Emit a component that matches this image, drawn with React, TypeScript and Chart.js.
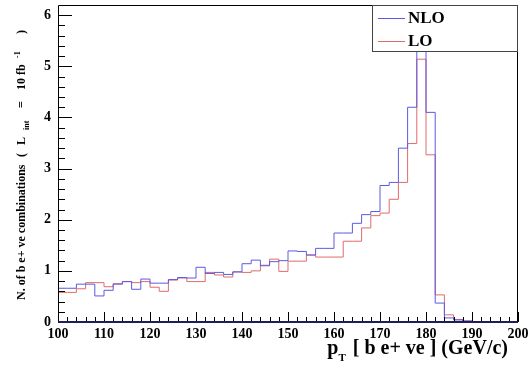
import React, { useEffect, useRef } from 'react';
import { Chart, registerables } from 'chart.js';

Chart.register(...registerables);

// Low edges of the 2 GeV/c bins
const binEdges = [
  100, 102, 104, 106, 108, 110, 112, 114, 116, 118,
  120, 122, 124, 126, 128, 130, 132, 134, 136, 138,
  140, 142, 144, 146, 148, 150, 152, 154, 156, 158,
  160, 162, 164, 166, 168, 170, 172, 174, 176, 178,
  180, 182, 184, 186, 188, 190, 192, 194, 196, 198,
];
const lastEdge = 200;

const nloValues = [
  0.66, 0.66, 0.74, 0.74, 0.51, 0.62, 0.74, 0.79, 0.64, 0.84,
  0.76, 0.76, 0.83, 0.87, 0.86, 1.07, 0.95, 0.97, 0.93, 0.98,
  1.14, 1.21, 1.10, 1.18, 1.20, 1.39, 1.38, 1.31, 1.44, 1.44,
  1.74, 1.74, 1.93, 2.10, 2.16, 2.67, 2.73, 3.40, 4.20, 5.75,
  4.10, 0.37, 0.08, 0.04, 0.02, 0.0, 0.0, 0.0, 0.0, 0.0,
];

const loValues = [
  0.58, 0.58, 0.65, 0.77, 0.77, 0.69, 0.75, 0.79, 0.77, 0.79,
  0.68, 0.60, 0.82, 0.86, 0.79, 0.79, 0.97, 0.92, 0.88, 0.98,
  0.97, 1.00, 1.11, 1.23, 0.99, 1.19, 1.19, 1.31, 1.27, 1.27,
  1.27, 1.58, 1.58, 1.84, 2.08, 2.13, 2.40, 2.73, 3.49, 5.14,
  3.27, 0.53, 0.14, 0.05, 0.02, 0.01, 0.0, 0.0, 0.0, 0.0,
];

const xTickStep = 10;
const xMinorStep = 2;
const yTickStep = 1;
const yMinorStep = 0.2;
const xMin = 100;
const xMax = 200;
const yMin = 0;
const yMax = 6.2;

const seriesNames = ['NLO', 'LO'];
const seriesColors = ['#5b5be0', '#e06a6a'];

const SERIF = '"Liberation Serif", "DejaVu Serif", serif';

function histPoints(values: number[]) {
  const pts = binEdges.map((x, i) => ({ x, y: values[i] }));
  pts.push({ x: lastEdge, y: values[values.length - 1] });
  return pts;
}

const decorPlugin = {
  id: 'rootDecor',
  afterDraw(chart: any) {
    const { ctx, chartArea: a } = chart;
    const xs = chart.scales.x;
    const ys = chart.scales.y;
    ctx.save();

    // frame
    ctx.strokeStyle = '#000';
    ctx.lineWidth = 1;
    ctx.beginPath();
    ctx.moveTo(a.left + 0.5, a.bottom);
    ctx.lineTo(a.left + 0.5, a.top + 0.5);
    ctx.lineTo(a.right - 0.5, a.top + 0.5);
    ctx.lineTo(a.right - 0.5, a.bottom);
    ctx.stroke();

    // x ticks (inside, upward)
    ctx.beginPath();
    for (let v = xMin; v <= xMax + 1e-6; v += xMinorStep) {
      const px = Math.round(xs.getPixelForValue(v)) + 0.5;
      const major = Math.abs(v / xTickStep - Math.round(v / xTickStep)) < 1e-6;
      const len = major ? 10 : 5;
      ctx.moveTo(px, a.bottom);
      ctx.lineTo(px, a.bottom - len);
    }
    // y ticks (inside, rightward)
    for (let v = yMin; v <= 6 + 1e-6; v += yMinorStep) {
      const py = Math.round(ys.getPixelForValue(v)) + 0.5;
      const major = Math.abs(v / yTickStep - Math.round(v / yTickStep)) < 1e-6;
      const len = major ? 14 : 7;
      ctx.moveTo(a.left, py);
      ctx.lineTo(a.left + len, py);
    }
    ctx.stroke();

    // bottom axis line
    ctx.strokeStyle = '#1e1e5a';
    ctx.lineWidth = 2;
    ctx.beginPath();
    ctx.moveTo(a.left, a.bottom);
    ctx.lineTo(a.right, a.bottom);
    ctx.stroke();

    // legend box
    const lx = 372, ly = a.top, lw = a.right - 372, lh = 46;
    ctx.fillStyle = '#fff';
    ctx.fillRect(lx, ly, lw, lh);
    ctx.strokeStyle = '#444';
    ctx.lineWidth = 1;
    ctx.strokeRect(lx + 0.5, ly + 0.5, lw - 1, lh);
    const rows = [ly + 13, ly + 36];
    seriesNames.forEach((name, i) => {
      ctx.strokeStyle = seriesColors[i];
      ctx.lineWidth = 1;
      ctx.beginPath();
      ctx.moveTo(378, rows[i] + 0.5);
      ctx.lineTo(405, rows[i] + 0.5);
      ctx.stroke();
      ctx.fillStyle = '#000';
      ctx.font = 'bold 17px ' + SERIF;
      ctx.textBaseline = 'middle';
      ctx.textAlign = 'left';
      ctx.fillText(name, 408, rows[i] + 1);
    });

    // x title
    ctx.fillStyle = '#000';
    ctx.textBaseline = 'alphabetic';
    ctx.textAlign = 'left';
    const bigX = 'bold 20px ' + SERIF;
    const smallX = 'bold 11px ' + SERIF;
    const rest = ' [ b e+ ve ] (GeV/c)';
    ctx.font = bigX;
    const wRest = ctx.measureText(rest).width;
    const wP = ctx.measureText('p').width;
    ctx.font = smallX;
    const wT = ctx.measureText('T').width;
    const xEnd = 508;
    const xStart = xEnd - wRest - wT - wP - 2;
    ctx.font = bigX;
    ctx.fillText('p', xStart, 354);
    ctx.font = smallX;
    ctx.fillText('T', xStart + wP, 361);
    ctx.font = bigX;
    ctx.fillText(rest, xStart + wP + wT + 2, 354);

    // y title (rotated)
    ctx.save();
    ctx.translate(25, 300);
    ctx.rotate(-Math.PI / 2);
    const big = 'bold 12px ' + SERIF;
    const small = 'bold 8px ' + SERIF;
    const segs: [string, string, number, number][] = [
      ['N. of b e+ ve combinations', big, 0, 0],
      ['(', big, 143, 0],
      ['L', big, 155, 0],
      ['int', small, 170, 4],
      ['=', big, 192, 0],
      ['10 fb', big, 210, 0],
      ['-1', small, 242, -5],
      [')', big, 266, 0],
    ];
    for (const [t, f, pos, dy] of segs) {
      ctx.font = f;
      ctx.fillText(t, pos, dy);
    }
    ctx.restore();

    ctx.restore();
  },
};

export default function App() {
  const ref = useRef<HTMLCanvasElement | null>(null);

  useEffect(() => {
    document.body.style.margin = '0';
    const canvas = ref.current;
    if (!canvas) return;
    const chart = new Chart(canvas, {
      type: 'line',
      data: {
        datasets: [
          {
            label: seriesNames[0],
            data: histPoints(nloValues),
            borderColor: seriesColors[0],
            borderWidth: 1,
            pointRadius: 0,
            stepped: true,
            fill: false,
          },
          {
            label: seriesNames[1],
            data: histPoints(loValues),
            borderColor: seriesColors[1],
            borderWidth: 1,
            pointRadius: 0,
            stepped: true,
            fill: false,
          },
        ],
      },
      options: {
        animation: false,
        responsive: false,
        devicePixelRatio: 1,
        layout: { padding: { left: 0, right: 12, top: 5, bottom: 0 } },
        plugins: {
          legend: { display: false },
          tooltip: { enabled: false },
        },
        scales: {
          x: {
            type: 'linear',
            min: xMin,
            max: xMax,
            grid: { display: false, drawTicks: false },
            border: { display: false },
            ticks: {
              stepSize: xTickStep,
              padding: 4,
              color: '#000',
              maxRotation: 0,
              autoSkip: false,
              font: { family: SERIF, size: 14, weight: 'bold' },
            },
            afterFit: (s: any) => {
              s.height = 45;
              s.paddingLeft = 0;
              s.paddingRight = 0;
            },
          },
          y: {
            type: 'linear',
            min: yMin,
            max: yMax,
            grid: { display: false, drawTicks: false },
            border: { display: false },
            ticks: {
              stepSize: yTickStep,
              includeBounds: false,
              padding: 7,
              color: '#000',
              font: { family: SERIF, size: 14, weight: 'bold' },
            },
            afterFit: (s: any) => {
              s.width = 58;
              s.paddingTop = 0;
              s.paddingBottom = 0;
            },
          },
        },
      },
      plugins: [decorPlugin],
    } as any);
    return () => chart.destroy();
  }, []);

  return (
    <div style={{ width: 530, height: 367 }}>
      <canvas ref={ref} width={530} height={367} style={{ display: 'block' }} />
    </div>
  );
}
